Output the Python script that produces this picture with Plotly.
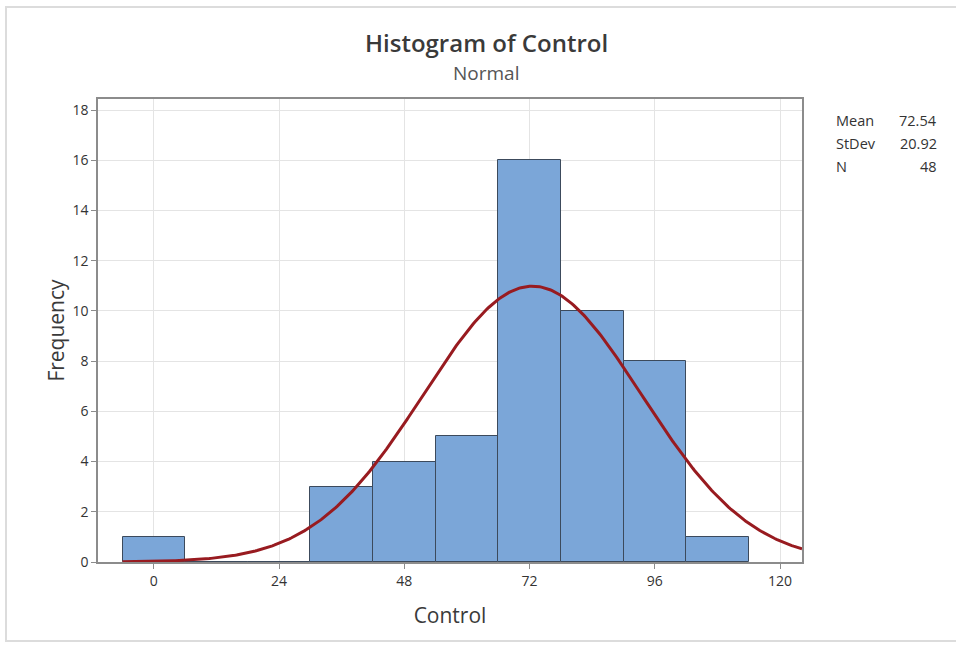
import numpy as np
import plotly.graph_objects as go

# Data
bin_centers = [0, 12, 24, 36, 48, 60, 72, 84, 96, 108]
counts = [1, 0, 0, 3, 4, 5, 16, 10, 8, 1]
bin_width = 12
mean_val = 72.54
stdev_val = 20.92
n_val = 48
x_ticks = [0, 24, 48, 72, 96, 120]
y_ticks = [0, 2, 4, 6, 8, 10, 12, 14, 16, 18]

FONT = "Open Sans"
W, H = 956, 646
L, R, T, B = 98, 802, 99, 562

xr = [-10.7, 124.2]
yr = [0, 18.44]

fig = go.Figure()
fig.add_trace(go.Bar(
    x=bin_centers, y=counts, width=bin_width,
    marker=dict(color="#7BA6D8", line=dict(color="#3C4A5C", width=1)),
    hoverinfo="x+y", showlegend=False,
))

xs = np.linspace(bin_centers[0] - bin_width / 2, xr[1], 400)
ys = n_val * bin_width / (stdev_val * np.sqrt(2 * np.pi)) * np.exp(-0.5 * ((xs - mean_val) / stdev_val) ** 2)
fig.add_trace(go.Scatter(x=xs, y=ys, mode="lines",
                         line=dict(color="#981B20", width=3), showlegend=False))

def px_x(p):
    return (p - L) / (R - L)

def px_y(p):
    return (B - p) / (B - T)

annotations = [
    dict(text="Histogram of Control", x=px_x(486), y=px_y(42), xref="paper", yref="paper",
         showarrow=False, font=dict(family=FONT, size=24, color="#3a3a3a", weight=600),
         xanchor="center", yanchor="middle"),
    dict(text="Normal", x=px_x(486), y=px_y(73), xref="paper", yref="paper",
         showarrow=False, font=dict(family=FONT, size=19, color="#555555"), xanchor="center", yanchor="middle"),
]
stat_labels = ["Mean", "StDev", "N"]
stat_values = [f"{mean_val:.2f}", f"{stdev_val:.2f}", f"{n_val}"]
for i, (lab, val) in enumerate(zip(stat_labels, stat_values)):
    yy = 120 + i * 23
    annotations.append(dict(text=lab, x=px_x(834), y=px_y(yy), xref="paper", yref="paper",
                            showarrow=False, xanchor="left", yanchor="middle",
                            font=dict(family=FONT, size=14.5, color="#333333")))
    annotations.append(dict(text=val, x=px_x(939), y=px_y(yy), xref="paper", yref="paper",
                            showarrow=False, xanchor="right", yanchor="middle",
                            font=dict(family=FONT, size=14.5, color="#333333")))

fig.update_layout(
    width=W, height=H,
    margin=dict(l=L, r=W - R, t=T, b=H - B, pad=0),
    paper_bgcolor="white", plot_bgcolor="white",
    bargap=0,
    annotations=annotations,
    shapes=[dict(type="rect", xref="paper", yref="paper",
                 x0=px_x(6), x1=px_x(960), y0=px_y(641), y1=px_y(7),
                 line=dict(color="#dcdcdc", width=2), fillcolor="rgba(0,0,0,0)", layer="below")],
    xaxis=dict(range=xr, tickvals=x_ticks, showgrid=True, gridcolor="#e4e4e4", gridwidth=1,
               zeroline=False, showline=True, linecolor="#8c8c8c", linewidth=1.5, mirror=True,
               ticks="outside", ticklen=5, tickcolor="#8c8c8c",
               tickfont=dict(family=FONT, size=14, color="#333333"),
               title=dict(text="Control", font=dict(family=FONT, size=21, color="#3a3a3a"), standoff=20)),
    yaxis=dict(range=yr, tickvals=y_ticks, showgrid=True, gridcolor="#e4e4e4", gridwidth=1,
               zeroline=False, showline=True, linecolor="#8c8c8c", linewidth=1.5, mirror=True,
               ticks="outside", ticklen=5, tickcolor="#8c8c8c",
               tickfont=dict(family=FONT, size=14, color="#333333"),
               title=dict(text="Frequency", font=dict(family=FONT, size=21, color="#3a3a3a"), standoff=2)),
)

fig.write_html("out.html")
